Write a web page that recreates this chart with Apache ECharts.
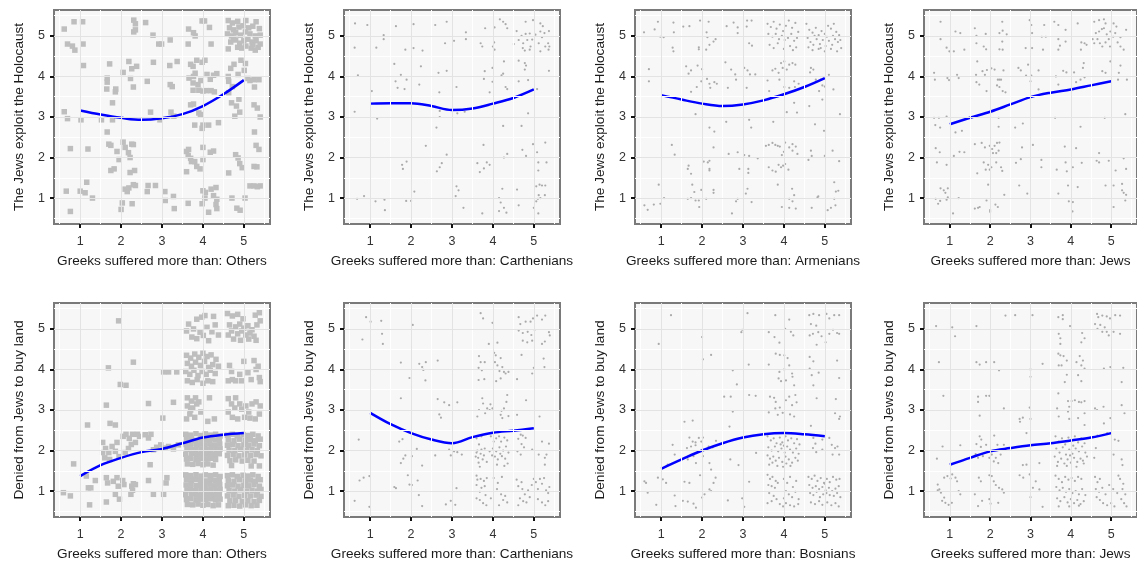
<!DOCTYPE html>
<html>
<head>
<meta charset="utf-8">
<script src="https://cdn.jsdelivr.net/npm/echarts@6/dist/echarts.min.js"></script>
<style>
  html, body { margin: 0; padding: 0; background: #fff; }
  #chart { width: 1137px; height: 563px; }
</style>
</head>
<body>
<div id="chart"></div>
<script>
// 坐标刻度
const ticks = [1, 2, 3, 4, 5]
const minorTicks = [0.5, 1.5, 2.5, 3.5, 4.5, 5.5]
const fitX = [1, 1.5, 2, 2.5, 3, 3.5, 4, 4.5, 5]

const xTitles = [
  'Greeks suffered more than: Others',
  'Greeks suffered more than: Carthenians',
  'Greeks suffered more than: Armenians',
  'Greeks suffered more than: Jews',
  'Greeks suffered more than: Others',
  'Greeks suffered more than: Carthenians',
  'Greeks suffered more than: Bosnians',
  'Greeks suffered more than: Jews'
]
const yTitles = [
  'The Jews exploit the Holocaust', 'The Jews exploit the Holocaust',
  'The Jews exploit the Holocaust', 'The Jews exploit the Holocaust',
  'Denied from Jews to buy land', 'Denied from Jews to buy land',
  'Denied from Jews to buy land', 'Denied from Jews to buy land'
]

// 拟合曲线 (x = fitX)
const fit1 = [3.16, 3.06, 2.98, 2.93, 2.97, 3.07, 3.27, 3.56, 3.91]
const fit2 = [3.33, 3.34, 3.34, 3.27, 3.17, 3.21, 3.33, 3.47, 3.68]
const fit3 = [3.54, 3.43, 3.33, 3.27, 3.31, 3.41, 3.56, 3.74, 3.96]
const fit4 = [2.82, 2.98, 3.13, 3.31, 3.49, 3.6, 3.68, 3.78, 3.88]
const fit5 = [1.37, 1.64, 1.82, 1.96, 2.04, 2.18, 2.32, 2.39, 2.43]
const fit6 = [2.93, 2.65, 2.43, 2.27, 2.18, 2.33, 2.44, 2.49, 2.55]
const fit7 = [1.55, 1.78, 2.0, 2.18, 2.32, 2.4, 2.43, 2.4, 2.35]
const fit8 = [1.65, 1.82, 1.98, 2.06, 2.13, 2.18, 2.25, 2.32, 2.43]

// 散点 (抖动后)
const pts1 = [
  [0.61,5.17],[0.85,5.35],[1.06,5.35],[0.69,4.8],[0.81,4.75],[0.87,4.65],[1.07,4.8],[1.08,4.27],
  [2.31,5.39],[2.35,5.3],[2.31,5.1],[2.35,5.15],[2.6,5.33],[2.78,5.02],[2.92,4.8],[2.99,4.8],[3.2,4.9],
  [1.72,4.31],[1.66,3.96],[1.66,3.86],[1.65,3.69],[1.87,3.69],[1.86,3.62],[2.05,4.1],[2.19,4.37],[2.26,4.19],
  [2.23,3.95],[2.3,3.74],[2.38,4.25],[2.64,3.88],[2.79,4.35],[3.2,3.8],[3.25,3.75],[3.19,4.27],[3.37,4.37],[1.79,3.35],
  [2.72,3.12],[2.95,2.93],[3.22,3.12],[3.29,3.02],[1.79,2.93],[1.66,2.63],[1.52,2.93],
  [3.65,5.17],[3.77,5.08],[3.81,5.0],[3.98,5.37],[4.04,5.37],[4.16,5.21],[4.2,4.8],[3.64,4.8],
  [3.7,4.3],[3.76,4.25],[3.81,4.08],[3.77,4.0],[3.66,3.96],[3.76,3.84],[3.88,3.8],[3.76,3.66],[3.9,3.66],
  [3.98,4.35],[4.05,4.4],[3.85,4.4],[4.1,4.05],[4.18,3.93],[4.26,4.03],[4.34,4.07],[4.0,3.64],[4.08,3.65],
  [4.2,3.65],[4.28,3.62],[3.95,3.9],
  [3.7,3.3],[3.77,3.32],[3.9,3.1],[3.94,3.06],[3.8,2.8],[3.98,2.72],[4.0,2.8],[4.14,2.8],[4.38,2.86],
  [4.62,5.38],[4.72,5.32],[4.85,5.36],[5.05,5.38],[5.3,5.35],[4.65,5.2],[4.75,5.15],[4.88,5.22],[4.98,5.25],
  [5.12,5.2],[5.22,5.24],[5.38,5.18],[4.6,5.05],[4.7,5.0],[4.8,5.08],[4.92,5.02],[5.04,5.1],[5.15,5.05],
  [5.28,5.0],[5.4,5.02],[4.68,4.85],[4.8,4.9],[4.9,4.82],[5.0,4.88],[5.1,4.92],[5.2,4.85],[5.3,4.88],
  [5.4,4.8],[4.62,4.68],[4.85,4.72],[4.95,4.7],[5.05,4.75],[5.18,4.7],[5.28,4.65],[5.35,4.72],[5.22,4.78],[4.75,4.95],
  [4.62,4.0],[4.68,4.2],[4.76,4.3],[4.86,4.05],[4.93,4.4],[5.01,4.15],[5.04,4.32],[4.63,3.88],[4.72,3.75],
  [4.63,3.6],[4.7,3.35],[4.82,3.27],[4.88,3.44],[5.25,3.92],[5.37,3.92],[5.26,3.74],[5.25,3.3],[5.33,3.22],
  [5.4,3.0],[4.78,3.02],[4.9,3.12],[5.1,3.95],[5.15,3.9],
  [4.8,2.07],[4.86,1.99],[4.9,1.85],[4.96,1.75],[4.63,1.62],[5.25,1.78],[5.32,1.77],[5.3,2.3],[5.37,2.2],
  [5.26,2.63],[5.15,1.3],[5.25,1.3],[5.33,1.28],[5.4,1.3],[4.71,1.0],[4.83,0.75],[4.91,0.7],[5.03,1.0],
  [3.6,2.15],[3.64,2.05],[3.7,1.98],[3.72,1.9],[3.8,1.9],[3.6,1.65],[3.85,1.78],[3.93,1.72],[4.0,2.25],
  [4.18,2.13],[4.26,2.16],[3.65,2.2],[4.0,1.95],
  [4.0,1.18],[4.06,1.14],[4.2,1.22],[4.32,1.26],[4.34,0.97],[4.32,0.84],[4.26,1.06],[3.64,0.87],[3.98,0.86],
  [4.14,0.65],[4.34,0.74],[4.05,1.0],
  [1.75,2.3],[1.7,2.33],[2.05,2.38],[2.1,2.25],[2.18,2.12],[2.22,2.0],[1.9,2.15],[2.26,2.33],[2.3,2.32],
  [1.83,1.72],[1.75,1.68],[2.22,1.63],[2.33,1.68],[1.95,1.95],
  [2.1,1.22],[2.15,1.16],[2.19,1.25],[2.3,1.33],[2.35,1.31],[2.03,0.88],[2.0,0.72],[2.27,0.86],
  [2.64,1.16],[2.84,1.31],[2.66,1.31],[3.07,1.16],[3.08,0.94],[3.28,1.04],[3.3,0.74],
  [0.76,2.22],[1.19,2.21],[0.66,1.17],[1.0,1.17],[1.12,1.13],[1.16,1.39],[1.3,1.0],[0.76,0.67],
  [0.61,3.13],[0.69,2.96],[1.02,2.93]
]

const pts2 = [
  [0.63,5.31],[0.93,5.27],[0.62,4.71],[0.7,4.03],[1.33,5.02],[1.33,4.92],[1.15,4.71],[1.04,3.64],[0.62,3.13],
  [1.17,2.96],[0.68,0.98],[0.85,1.05],[1.13,0.92],[1.35,0.96],[1.36,0.7],
  [1.63,5.24],[2.06,5.29],[1.86,4.66],[2.06,4.7],[2.28,4.64],[1.59,4.31],[1.75,4.04],[1.89,3.92],[1.62,3.88],
  [1.67,3.72],[1.84,3.69],[2.2,3.8],[2.24,4.25],[2.36,2.29],[1.78,1.82],[1.8,1.72],[1.89,1.9],[2.08,1.16],
  [1.88,0.93],[2.0,0.93],
  [2.59,5.27],[2.87,5.35],[2.83,4.82],[3.05,4.88],[3.34,5.09],[3.34,4.92],[2.67,4.09],[2.87,4.14],[3.11,3.74],
  [2.69,3.61],[2.7,3.15],[2.7,3.0],[2.62,2.74],[3.13,3.09],[3.31,3.13],[2.87,2.07],[2.75,1.86],[2.7,1.76],
  [2.63,1.66],[3.11,1.29],[3.16,1.19],[3.09,1.05],[3.28,0.76],
  [3.81,5.19],[4.04,5.21],[4.17,5.41],[4.25,5.35],[4.31,5.29],[4.35,5.19],[3.7,4.82],[3.74,4.74],[4.03,4.84],
  [4.04,4.66],[4.0,4.74],[3.8,4.13],[3.78,3.94],[3.99,4.21],[4.27,4.37],[4.21,4.03],[4.25,4.07],[3.99,3.87],
  [3.92,3.61],[4.31,3.74],[4.35,3.69],[4.25,2.78],[3.77,2.31],[3.62,1.86],[3.68,1.64],[3.78,1.73],[3.85,1.88],
  [3.92,1.82],[4.35,2.09],[4.27,2.0],[3.74,0.62],[4.23,1.23],[4.15,1.0],[4.19,0.89],[4.27,0.76],[4.33,0.64],[4.15,0.68],
  [4.58,5.12],[4.8,5.35],[4.98,5.39],[5.16,5.31],[5.22,5.24],[5.37,5.12],[4.63,4.9],[4.7,5.0],[4.74,4.82],
  [4.8,5.05],[4.84,4.9],[4.9,5.06],[4.96,4.91],[5.04,5.03],[5.16,5.11],[5.2,4.97],[5.26,5.07],[4.51,4.8],
  [4.73,4.7],[4.78,4.64],[4.92,4.74],[4.9,4.66],[5.12,4.82],[5.16,4.62],[5.28,4.74],[5.35,4.82],[5.36,4.66],
  [5.38,4.74],[4.63,4.39],[4.78,4.33],[4.78,4.17],[4.81,4.27],[4.63,3.88],[4.86,3.91],[5.08,3.69],[5.37,4.14],
  [4.7,2.78],[4.86,3.09],[4.72,2.19],[4.81,2.04],[4.98,2.33],[5.08,2.13],[5.11,1.88],[5.28,2.37],[5.31,1.88],
  [5.11,1.68],[4.59,1.21],[4.63,0.82],[5.0,0.76],[5.06,0.92],[5.1,0.98],[5.06,1.29],[5.14,1.33],[5.2,1.31],
  [5.28,1.31],[5.12,1.07],[5.16,1.0],[5.27,1.07],[5.11,0.62]
]

const pts3 = [
  [0.58,5.09],[0.92,5.35],[0.84,5.16],[0.98,4.98],[1.06,4.97],[1.3,5.33],[1.31,5.09],[1.28,4.71],[1.3,4.62],
  [0.7,4.18],[0.7,3.88],[1.26,2.31],[1.33,2.07],[0.94,1.33],[1.07,1.0],[0.59,0.82],[0.67,0.71],[0.82,0.84],[0.98,0.86],
  [1.54,5.23],[1.69,5.24],[1.95,5.38],[2.16,5.35],[1.92,4.72],[1.92,4.67],[2.11,5.09],[2.13,4.97],[2.1,4.66],
  [2.18,4.78],[2.28,4.86],[2.33,4.92],[1.61,4.25],[1.67,4.07],[1.73,4.15],[1.89,4.27],[2.0,4.18],[1.98,3.88],
  [1.87,3.74],[1.73,3.62],[2.12,3.94],[2.18,3.82],[2.2,3.72],[2.36,3.82],[2.3,3.86],[1.84,3.07],[2.18,2.74],
  [2.3,2.64],[2.28,2.25],[2.04,1.9],[2.18,1.92],[2.14,1.88],[2.18,1.72],[2.18,1.68],[1.67,1.8],[1.65,1.72],
  [1.73,1.6],[1.76,1.33],[1.81,1.15],[1.65,0.98],[1.73,1.0],[1.84,0.94],[1.92,0.94],[1.93,0.78],[1.98,1.2],
  [2.1,0.98],[2.28,1.2],[2.28,1.13],
  [2.6,5.24],[2.77,5.33],[2.87,5.21],[2.87,5.07],[3.1,5.38],[3.21,5.38],[3.09,5.23],[3.15,4.82],[3.22,4.76],
  [2.57,4.35],[2.71,4.17],[2.81,4.05],[2.83,3.92],[2.63,3.72],[3.03,4.21],[3.11,4.15],[3.17,4.05],[3.3,4.05],
  [3.09,3.72],[3.15,2.93],[3.2,2.74],[2.59,2.88],[2.65,2.09],[2.87,2.13],[2.91,1.72],[3.03,2.06],[3.15,2.04],
  [3.13,1.72],[3.13,1.62],[3.36,1.98],[2.87,0.98],[2.83,0.92],[3.07,1.11],[3.11,1.23],[3.21,0.9],[2.73,0.62],
  [3.6,5.3],[3.68,5.22],[3.75,5.35],[3.82,5.18],[3.9,5.28],[3.98,5.12],[4.05,5.25],[4.12,5.38],[4.2,5.2],
  [4.28,5.32],[4.35,5.1],[3.62,5.05],[3.72,4.98],[3.8,5.05],[3.88,4.92],[3.95,5.0],[4.02,4.9],[4.1,4.95],
  [4.18,5.05],[4.25,4.88],[4.32,4.95],[3.65,4.78],[3.75,4.7],[3.85,4.82],[4.0,4.68],[4.15,4.75],[4.22,4.65],[4.3,4.72],
  [3.6,3.9],[3.64,3.64],[3.72,4.15],[3.79,4.19],[3.87,4.09],[3.93,4.33],[3.97,4.21],[4.01,4.37],[4.07,4.17],
  [4.13,4.29],[4.21,4.33],[4.28,4.29],[3.89,3.92],[4.01,3.74],[4.13,3.72],[4.27,3.74],[4.36,3.82],[4.25,3.88],
  [4.07,3.12],[4.32,3.11],[4.25,3.35],[3.74,2.88],
  [3.56,2.29],[3.63,2.31],[3.72,2.36],[3.79,2.31],[3.85,2.29],[3.9,2.27],[4.03,2.37],[4.13,2.25],[4.21,2.33],
  [4.29,2.27],[4.21,2.17],[4.33,2.09],[4.0,2.14],[3.95,2.06],[3.63,1.76],[3.72,1.68],[3.8,1.65],[3.87,1.82],
  [3.93,1.76],[3.98,1.8],[4.03,1.84],[4.11,1.7],[3.85,1.33],[4.13,0.98],[4.2,1.23],[4.25,1.07],[4.21,0.92],
  [4.29,0.74],[3.95,0.78],[4.13,0.76],
  [4.55,5.3],[4.62,5.15],[4.7,5.08],[4.78,5.2],[4.85,5.02],[4.92,5.12],[5.0,5.05],[5.08,5.25],[5.15,5.18],
  [5.22,5.3],[5.28,5.1],[5.35,5.02],[4.58,4.95],[4.65,4.85],[4.72,4.78],[4.8,4.92],[4.88,4.8],[4.95,4.9],
  [5.02,4.75],[5.1,4.88],[5.18,4.78],[5.25,4.92],[5.32,4.85],[5.4,4.7],[4.6,4.72],[4.7,4.65],[4.85,4.68],
  [5.0,4.62],[5.15,4.68],[5.3,4.62],[4.75,5.0],[5.05,4.98],[4.9,4.7],[5.38,4.9],[5.2,5.0],
  [4.78,3.92],[4.9,3.92],[4.94,3.78],[5.0,3.75],[4.86,3.64],[4.94,3.43],[4.66,4.21],[4.72,4.17],[4.64,4.1],
  [5.1,4.04],[4.62,3.27],[5.21,3.68],[5.37,3.07],[4.76,2.82],[4.98,2.66],
  [4.66,2.17],[4.68,2.04],[4.6,1.94],[5.0,2.04],[5.19,2.17],[5.35,1.91],
  [4.68,0.76],[4.82,1.02],[4.84,1.04],[5.07,0.7],[5.15,0.76],[5.23,1.39],[5.27,1.16],[5.23,0.98],[5.26,0.82],[5.33,1.18]
]

const pts4 = [
  [0.77,5.35],[0.77,4.92],[0.92,4.71],[1.14,5.11],[1.26,5.07],[0.99,4.62],[1.1,4.62],[1.36,4.66],
  [0.61,4.09],[0.63,3.92],[0.94,3.96],[0.98,3.91],[1.18,4.04],[1.22,3.96],[0.61,2.98],[0.73,2.98],[0.92,3.01],
  [0.64,2.8],[0.76,2.74],[1.14,2.62],[1.3,2.66],[0.65,2.23],[0.75,2.13],[0.68,1.88],[0.92,1.82],[1.24,2.14],
  [1.36,2.13],[1.1,2.04],[0.77,1.24],[0.85,1.19],[0.95,1.24],[0.89,1.13],[0.95,1.02],[0.92,0.96],[0.65,0.98],
  [0.76,0.93],[0.71,0.86],[1.08,0.62],[1.22,1.0],
  [1.62,5.19],[1.66,5.0],[1.66,4.82],[1.89,5.05],[1.84,4.74],[1.9,4.67],[2.23,5.07],[2.31,5.13],[2.3,4.86],
  [2.31,4.66],[2.23,4.67],[2.3,5.35],[1.68,4.37],[1.65,4.04],[1.66,3.86],[1.73,3.8],[1.81,4.13],[1.87,4.04],
  [1.92,4.16],[2.03,4.2],[1.91,3.64],[2.11,4.17],[2.19,3.92],[2.23,3.92],[2.27,3.92],[2.17,3.78],[2.23,3.74],
  [2.31,3.64],[2.38,3.61],[2.33,4.15],[2.21,2.98],[2.21,2.76],[1.62,2.33],[1.79,2.36],[1.68,1.61],[1.87,2.25],
  [1.99,2.29],[2.05,2.21],[2.11,2.29],[2.17,2.36],[2.23,2.37],[2.07,2.11],[2.15,2.11],[2.21,2.17],[1.84,1.88],
  [1.95,1.82],[1.99,1.7],[1.89,1.7],[2.15,1.88],[2.27,1.76],[2.3,1.67],[2.03,1.76],[1.95,1.33],[2.35,1.08],
  [1.62,0.74],[1.7,0.76],[1.74,0.78],[2.0,0.7],[2.0,0.66],[1.91,0.94],[2.13,0.84],[2.19,0.78],
  [2.41,5.04],[2.98,5.39],[3.02,5.27],[3.04,5.07],[3.34,5.27],[3.28,4.98],[3.38,4.98],[2.88,4.7],[3.04,4.7],
  [3.31,4.66],[2.7,4.21],[2.76,4.15],[2.94,4.29],[2.89,4.02],[3.02,4.02],[3.0,3.88],[3.2,4.15],[3.2,3.68],
  [2.62,2.74],[2.81,2.84],[2.79,2.25],[2.64,1.87],[2.76,1.96],[3.06,2.31],[3.27,1.94],[3.27,1.76],[2.72,1.31],[2.92,1.11],
  [3.59,5.35],[3.69,5.27],[3.87,5.15],[4.17,5.31],[3.69,4.92],[3.73,4.76],[3.69,4.66],[3.87,4.86],[4.26,4.84],
  [4.34,4.82],[4.39,4.78],[4.25,4.66],[3.81,4.14],[3.89,4.1],[4.08,4.1],[4.13,3.86],[4.24,3.92],[4.34,3.98],
  [4.3,4.21],[4.32,4.33],[3.63,4.0],[3.69,3.8],[3.61,2.98],[4.24,2.76],[3.85,2.27],[4.13,2.23],[3.87,1.88],
  [3.9,1.66],[3.65,1.7],[4.05,1.76],[4.27,1.87],[3.69,1.11],[3.93,1.31],[4.17,1.27],[3.95,0.92],[4.05,0.9],[4.04,0.67],
  [4.58,5.35],[4.7,5.39],[4.82,5.41],[4.86,5.31],[5.06,5.31],[5.13,5.23],[4.62,5.07],[4.7,5.11],[4.77,5.17],
  [4.82,5.19],[4.89,5.04],[4.98,5.11],[5.05,4.98],[5.1,5.07],[4.54,4.92],[4.58,4.82],[4.66,4.92],[4.72,4.82],
  [4.78,4.74],[4.86,4.84],[4.94,4.92],[4.97,4.74],[5.16,4.84],[5.23,4.74],[5.31,4.66],[5.23,4.97],[5.37,5.15],
  [4.98,4.37],[4.78,4.13],[4.86,4.09],[5.19,4.09],[5.39,3.92],[5.17,3.92],[5.23,4.27],[4.84,2.98],[5.35,3.07],
  [4.7,2.11],[4.64,1.92],[4.7,1.88],[4.94,1.92],[5.31,1.98],[5.37,1.72],[5.11,1.68],[4.86,1.31],[5.06,1.31],
  [5.27,1.35],[5.27,1.19],[5.31,1.13],[5.37,1.08],[5.35,0.94],[5.06,0.78]
]

const pts5 = [
  [0.59,0.96],[0.76,0.88],[0.84,1.67],[1.18,2.63],[1.15,1.37],[1.2,1.08],[1.26,1.08],[1.37,1.26],[1.23,0.66],
  [1.64,3.12],[1.69,4.04],[1.94,5.2],[2.3,4.18],[1.98,3.63],[2.12,3.61],[1.73,2.67],[1.86,2.63],
  [1.55,2.2],[1.62,2.05],[1.7,1.95],[1.78,2.1],[1.86,1.98],[1.9,2.2],[1.95,1.85],[2.05,2.35],[2.12,2.4],
  [2.2,2.3],[2.28,2.4],[2.35,2.2],[2.1,1.95],[2.18,2.05],[2.25,2.15],[1.6,1.82],[1.72,1.78],[1.55,1.95],
  [2.4,2.4],[2.45,2.35],
  [1.64,1.33],[1.67,1.2],[1.81,1.24],[1.9,1.33],[1.93,1.12],[2.04,1.26],[2.07,1.16],[1.86,0.92],[1.96,0.8],
  [1.64,0.73],[2.26,1.12],[2.3,1.18],[2.24,0.92],[2.28,1.02],[2.35,1.16],
  [2.67,3.16],[3.04,3.94],[3.16,3.94],[3.36,3.94],[3.28,3.19],[3.02,2.8],[2.59,2.39],[2.67,2.31],[2.73,2.4],
  [2.71,1.65],[2.79,2.02],[2.87,2.08],[2.97,2.14],[3.08,2.06],[3.16,2.1],[3.28,2.04],[3.4,2.14],[2.67,1.26],
  [2.79,0.92],[3.04,0.92],[3.12,1.33],[3.1,1.2],
  [3.65,5.12],[3.85,5.24],[3.97,5.29],[4.05,5.33],[4.26,5.31],[3.77,5.0],[3.93,4.92],[4.1,5.04],[4.22,4.93],
  [3.73,4.8],[3.85,4.76],[4.01,4.84],[4.38,4.85],[4.14,4.71],[3.6,4.95],[4.3,5.1],
  [3.6,4.35],[3.7,4.28],[3.8,4.38],[3.9,4.3],[4.0,4.4],[4.1,4.32],[4.2,4.36],[4.32,4.25],[3.62,4.15],
  [3.72,4.08],[3.82,4.18],[3.94,4.1],[4.04,4.2],[4.14,4.05],[4.24,4.12],[4.38,4.08],[3.58,3.95],[3.68,3.88],
  [3.78,3.98],[3.88,3.85],[3.98,3.95],[4.08,3.88],[4.18,3.98],[4.3,3.9],[3.62,3.72],[3.74,3.68],[3.86,3.75],
  [4.0,3.66],[4.12,3.72],[4.24,3.7],
  [3.62,3.3],[3.72,3.22],[3.82,3.3],[3.62,3.1],[3.75,3.05],[3.85,3.15],[3.68,2.9],[3.8,2.82],[3.6,2.78],
  [3.95,2.95],[4.16,3.3],[4.12,2.72],[4.28,2.78],[3.9,3.2],[3.7,3.0],
  [3.58,2.4],[3.7,2.38],[3.83,2.42],[3.95,2.37],[4.06,2.41],[4.18,2.38],[4.31,2.4],[4.42,2.36],
  [3.6,2.27],[3.72,2.29],[3.82,2.25],[3.94,2.28],[4.07,2.26],[4.19,2.3],[4.3,2.26],[4.4,2.28],
  [3.59,2.15],[3.71,2.17],[3.84,2.14],[3.96,2.16],[4.05,2.14],[4.17,2.17],[4.29,2.13],[4.41,2.16],
  [3.61,2.03],[3.7,2.05],[3.82,2.02],[3.95,2.04],[4.08,2.03],[4.2,2.05],[4.32,2.02],[4.42,2.04],
  [3.58,1.91],[3.72,1.93],[3.84,1.9],[3.96,1.92],[4.06,1.91],[4.18,1.93],[4.3,1.9],[4.4,1.92],
  [3.6,1.79],[3.7,1.81],[3.83,1.78],[3.94,1.8],[4.07,1.79],[4.19,1.81],[4.31,1.78],
  [3.62,1.67],[3.75,1.66],[3.88,1.68],[4.0,1.65],[4.12,1.67],[4.25,1.64],
  [3.58,1.4],[3.7,1.38],[3.83,1.41],[3.95,1.37],[4.06,1.4],[4.18,1.38],[4.31,1.4],[4.42,1.36],
  [3.6,1.28],[3.72,1.26],[3.82,1.29],[3.94,1.27],[4.07,1.25],[4.19,1.29],[4.3,1.26],[4.4,1.28],
  [3.59,1.15],[3.71,1.17],[3.84,1.14],[3.96,1.16],[4.05,1.14],[4.17,1.17],[4.29,1.13],[4.41,1.16],
  [3.61,1.03],[3.7,1.05],[3.82,1.02],[3.95,1.04],[4.08,1.03],[4.2,1.05],[4.32,1.02],[4.42,1.04],
  [3.58,0.91],[3.72,0.93],[3.84,0.9],[3.96,0.92],[4.06,0.91],[4.18,0.93],[4.3,0.9],[4.4,0.92],
  [3.6,0.79],[3.7,0.81],[3.83,0.78],[3.94,0.8],[4.07,0.79],[4.19,0.81],[4.31,0.78],[4.42,0.8],
  [3.62,0.67],[3.75,0.66],[3.88,0.68],[4.0,0.65],[4.12,0.67],[4.25,0.64],[4.38,0.66],
  [4.6,5.38],[4.72,5.32],[4.85,5.36],[5.28,5.34],[5.38,5.4],[4.65,5.1],[4.8,5.05],[4.9,5.12],[5.0,5.02],
  [5.1,5.08],[5.2,4.98],[5.32,5.1],[4.7,4.95],[4.85,4.88],[4.95,4.95],[5.05,4.85],[5.15,4.9],[5.25,4.82],
  [4.75,4.75],[4.92,4.72],[5.3,4.72],[5.4,5.2],[4.62,4.85],[5.12,4.75],[4.98,5.25],
  [4.62,3.72],[4.72,3.75],[4.8,3.72],[4.7,3.95],[5.0,4.2],[5.1,3.92],[5.25,4.22],[5.3,4.0],[5.38,3.8],
  [5.4,3.7],[4.9,3.88],[5.18,3.75],[4.65,4.1],[5.35,4.08],[4.95,3.72],
  [4.62,3.28],[4.7,3.15],[4.8,3.3],[4.62,2.95],[4.72,2.82],[4.85,2.78],[4.95,3.02],[5.05,3.1],[5.12,2.95],
  [5.2,3.15],[5.3,3.2],[5.38,2.9],[5.28,2.78],[5.15,2.8],[4.9,3.15],[5.02,2.82],[5.4,3.1],[4.78,3.05],
  [4.6,2.38],[4.72,2.4],[4.84,2.36],[4.98,2.39],[5.1,2.37],[5.22,2.4],[5.35,2.36],
  [4.62,2.26],[4.76,2.24],[4.9,2.28],[5.04,2.25],[5.16,2.27],[5.28,2.24],[5.4,2.28],
  [4.6,2.13],[4.73,2.15],[4.86,2.12],[5.0,2.14],[5.12,2.13],[5.25,2.16],[5.38,2.12],
  [4.64,2.01],[4.78,2.0],[4.92,2.03],[5.06,2.0],[5.2,2.02],[5.33,2.0],
  [4.6,1.88],[4.74,1.9],[4.88,1.87],[5.02,1.89],[5.16,1.88],[5.3,1.9],[5.42,1.87],
  [4.66,1.75],[4.8,1.77],[4.96,1.74],[5.1,1.76],[5.25,1.74],[5.38,1.62],[4.7,1.63],[5.18,1.62],
  [4.6,1.38],[4.72,1.4],[4.84,1.36],[4.98,1.39],[5.1,1.37],[5.22,1.4],[5.35,1.36],
  [4.62,1.26],[4.76,1.24],[4.9,1.28],[5.04,1.25],[5.16,1.27],[5.28,1.24],[5.4,1.28],
  [4.6,1.13],[4.73,1.15],[4.86,1.12],[5.0,1.14],[5.12,1.13],[5.25,1.16],[5.38,1.12],
  [4.64,1.01],[4.78,1.0],[4.92,1.03],[5.06,1.0],[5.2,1.02],[5.33,1.0],[5.42,1.04],
  [4.6,0.88],[4.74,0.9],[4.88,0.87],[5.02,0.89],[5.16,0.88],[5.3,0.9],[5.42,0.87],
  [4.66,0.76],[4.8,0.77],[4.96,0.74],[5.1,0.76],[5.25,0.74],[5.38,0.77],
  [4.62,0.64],[4.76,0.65],[4.9,0.63],[5.04,0.66],[5.18,0.64],[5.32,0.65]
]

const pts6 = [
  [0.9,5.29],[1.01,5.18],[1.27,5.2],[1.29,4.88],[1.31,4.63],[0.81,4.74],[0.72,2.27],[0.74,1.26],[0.84,1.33],
  [0.98,1.37],[0.62,0.76],[0.98,0.61],
  [2.04,5.1],[1.75,4.17],[1.96,3.79],[2.2,4.14],[2.27,4.06],[2.3,3.99],[2.36,4.18],[2.35,3.73],[1.75,3.29],
  [1.71,2.22],[1.79,2.28],[2.14,2.04],[1.86,1.88],[1.75,1.69],[1.81,1.8],[2.02,1.86],[2.27,1.63],[1.59,1.1],
  [1.63,1.07],[1.92,1.39],[1.96,1.16],[2.02,1.15],[2.16,1.26],[2.19,0.9],[2.27,0.63],
  [2.65,4.22],[2.65,3.27],[2.81,3.19],[2.93,3.12],[3.13,3.19],[2.69,2.89],[2.73,2.81],[2.59,1.88],[2.93,2.02],
  [2.97,1.88],[3.05,1.98],[3.13,1.96],[3.24,1.9],[3.11,1.07],[2.85,0.67],[2.97,0.76],[3.08,0.66],
  [3.7,5.39],[3.76,5.26],[3.99,5.15],[3.9,4.63],[4.11,4.66],[3.66,4.33],[3.7,4.18],[3.65,4.04],[3.73,3.98],
  [3.8,4.18],[4.03,4.41],[4.07,4.35],[4.05,4.18],[4.11,4.1],[4.16,3.96],[4.27,3.94],[4.19,4.28],[4.23,4.06],
  [4.31,3.9],[4.38,3.94],[4.08,3.71],[4.19,3.78],[3.65,3.74],[3.79,3.76],
  [3.62,2.84],[3.66,3.0],[3.74,3.29],[3.81,2.92],[3.86,3.04],[3.92,3.0],[3.99,3.04],[3.94,3.14],[3.76,3.16],
  [4.21,2.98],[4.27,3.04],[4.23,2.8],[4.33,3.2],[4.35,3.37],[4.19,2.88],[4.38,2.85],
  [3.6,2.3],[3.66,2.15],[3.72,2.35],[3.62,2.0],[3.7,1.92],[3.58,1.85],[3.75,1.78],[3.65,1.7],[3.8,2.05],
  [3.68,1.6],[3.6,1.95],[3.72,2.02],[3.64,1.82],[3.78,1.88],[3.85,1.72],[3.95,2.35],[4.02,2.22],[4.08,2.3],
  [4.15,2.35],[4.2,2.22],[4.28,2.32],[4.35,2.25],[4.0,2.05],[4.08,1.98],[4.16,2.08],[4.25,2.0],[4.32,2.1],
  [4.38,1.95],[4.05,1.85],[4.12,1.78],[4.22,1.86],[4.3,1.8],[4.36,1.68],[3.98,1.88],[4.1,1.65],[4.28,1.62],
  [4.18,1.92],[3.92,1.98],
  [3.6,1.38],[3.62,1.28],[3.7,1.3],[3.78,1.25],[3.85,1.32],[3.6,1.15],[3.72,1.08],[3.68,0.98],[3.82,0.9],
  [3.8,1.12],[3.6,0.82],[3.68,0.78],[3.76,0.7],[3.84,0.65],[4.02,1.32],[4.12,1.2],[4.22,1.35],[4.1,1.05],
  [4.2,0.92],[4.3,0.88],[4.25,0.78],[4.15,0.65],[4.35,0.72],[3.95,0.82],
  [4.63,5.29],[4.67,5.12],[4.8,5.18],[4.92,5.18],[4.98,5.26],[5.08,5.33],[5.2,5.23],[5.28,5.33],[4.63,4.96],
  [4.73,4.9],[4.85,4.93],[4.94,4.85],[5.02,4.98],[4.73,4.71],[4.84,4.67],[4.96,4.71],[5.2,4.63],[5.27,4.69],
  [5.37,4.92],[5.39,4.84],[4.7,4.36],[5.24,4.27],[5.26,4.06],[5.0,4.04],[4.96,3.9],[4.59,3.76],[4.81,3.24],
  [4.59,2.88],[5.14,2.84],
  [4.68,2.39],[4.73,2.37],[4.8,2.31],[4.62,2.29],[4.7,2.16],[4.76,2.08],[4.6,1.98],[4.68,1.9],[4.96,2.02],
  [5.2,2.22],[5.37,2.17],[5.31,1.9],[5.27,1.82],[5.12,1.9],[5.27,1.65],
  [4.58,1.28],[4.62,1.12],[4.7,1.22],[4.72,1.05],[4.78,0.92],[4.66,0.82],[4.74,0.75],[4.82,0.72],[4.9,0.85],
  [4.86,1.02],[4.95,1.15],[5.0,1.3],[5.05,1.22],[5.1,1.05],[5.15,1.3],[5.2,1.18],[5.25,1.32],[5.3,1.02],
  [5.35,0.95],[5.38,1.1],[5.1,0.8],[5.2,0.72],[5.28,0.65],[5.35,0.75],[4.62,0.65]
]

const pts7 = [
  [0.94,4.63],[1.24,5.34],[0.59,1.24],[0.63,1.2],[0.67,0.96],[0.92,1.33],[1.04,1.29],[1.12,1.2],[1.16,1.65],
  [1.28,2.14],[1.33,1.9],[0.88,0.66],[1.33,0.89],[1.35,0.63],
  [2.0,4.8],[2.02,4.25],[2.22,4.36],[1.57,2.71],[1.77,2.74],[1.69,2.32],[1.77,2.22],[1.84,2.2],[1.92,2.31],
  [1.98,2.22],[2.02,2.32],[1.63,2.06],[1.73,2.1],[1.84,2.13],[1.92,1.98],[2.11,2.02],[2.16,2.1],[2.26,2.08],
  [2.34,2.24],[1.65,1.78],[1.79,1.86],[1.85,1.69],[2.02,1.86],[2.18,1.69],[2.22,1.53],[1.57,1.23],[1.69,1.2],
  [1.95,1.39],[2.18,1.04],[2.22,1.0],[2.06,0.92],[2.0,0.84],[1.53,0.76],[1.65,0.74],[1.79,0.69],[1.85,0.59],
  [2.33,1.33],[2.28,1.2],
  [3.11,5.39],[2.98,4.98],[2.96,4.92],[3.14,4.12],[2.75,3.98],[2.85,3.63],[2.54,3.33],[2.7,3.33],[3.15,3.37],
  [3.31,3.35],[2.75,2.96],[2.67,2.59],[2.69,1.78],[2.89,1.64],[3.32,1.94],[3.15,1.23],[2.63,0.77],[2.98,0.82],[3.03,0.61],
  [3.79,5.34],[4.13,5.23],[4.17,4.93],[4.03,5.0],[3.63,4.92],[3.77,4.8],[4.23,4.84],[3.89,4.66],
  [3.63,4.12],[3.8,4.39],[3.9,4.36],[4.01,4.35],[4.09,4.28],[4.13,4.1],[3.89,3.94],[4.01,4.0],[3.87,3.78],
  [3.93,3.71],[4.05,3.73],[4.2,3.9],[4.21,3.82],[4.25,3.61],
  [3.66,3.33],[3.76,3.3],[3.8,3.2],[3.9,3.06],[4.05,3.24],[4.13,3.33],[4.28,3.37],[4.2,3.12],[4.31,3.19],
  [4.15,2.89],[4.25,2.84],[3.97,2.93],[3.63,2.94],[3.79,3.04],[3.85,2.88],
  [3.6,2.35],[3.68,2.25],[3.75,2.3],[3.82,2.18],[3.9,2.32],[3.96,2.2],[4.04,2.35],[4.1,2.25],[4.18,2.3],
  [4.25,2.18],[4.32,2.28],[4.38,2.15],[3.62,2.08],[3.7,2.0],[3.78,2.1],[3.86,1.98],[3.94,2.05],[4.02,1.95],
  [4.08,2.1],[4.15,2.02],[4.22,1.95],[4.3,2.05],[4.36,1.92],[3.6,1.88],[3.66,1.8],[3.74,1.85],[3.8,1.75],
  [3.88,1.82],[3.96,1.72],[4.04,1.85],[4.12,1.78],[4.2,1.7],[4.28,1.82],[3.64,1.65],[3.72,1.7],[3.84,1.62],
  [3.98,1.6],[4.06,1.68],[4.16,1.62],[4.34,1.75],[3.92,2.15],[4.0,2.12],
  [3.6,1.4],[3.66,1.3],[3.72,1.35],[3.8,1.25],[3.62,1.15],[3.7,1.12],[3.78,1.08],[3.85,1.2],[3.64,0.95],
  [3.75,0.88],[3.6,0.7],[3.7,0.75],[3.82,0.8],[3.9,0.68],[3.98,0.62],[4.0,1.3],[4.08,1.2],[4.15,1.35],
  [4.22,1.1],[4.3,1.25],[4.05,1.0],[4.12,0.92],[4.2,0.85],[4.28,0.98],[4.36,0.8],[4.05,0.7],[4.15,0.65],
  [4.25,0.62],[4.35,0.68],[4.0,0.82],
  [4.62,5.34],[4.72,5.37],[4.86,5.34],[5.04,5.37],[5.11,5.26],[5.23,5.34],[5.35,5.34],[4.66,5.12],[4.79,5.08],
  [4.71,4.88],[4.84,4.92],[4.92,4.82],[4.63,4.84],[5.02,4.67],[5.11,4.88],[5.2,4.98],[5.3,4.9],[5.35,4.88],
  [4.8,4.61],[4.63,4.31],[4.72,4.2],[4.63,4.02],[4.68,3.86],[4.85,3.92],[4.72,3.61],[5.3,4.22],[5.35,3.79],
  [4.8,3.29],[5.27,3.27],[5.37,2.84],[5.35,2.78],[4.66,2.61],[5.25,2.92],
  [4.72,2.31],[4.77,2.17],[4.71,2.06],[4.79,1.96],[4.94,2.27],[5.11,2.31],[5.17,2.14],[5.25,2.06],[5.19,1.9],
  [5.31,2.1],[5.35,1.9],[4.94,2.02],
  [4.6,1.35],[4.68,1.3],[4.75,1.38],[4.82,1.25],[4.9,1.32],[4.98,1.2],[5.05,1.3],[5.12,1.22],[5.2,1.35],
  [5.28,1.28],[5.36,1.3],[4.62,1.15],[4.7,1.08],[4.78,1.12],[4.86,1.05],[4.94,1.1],[5.02,1.02],[5.1,1.08],
  [5.18,1.0],[5.26,1.06],[5.34,1.12],[4.64,0.95],[4.72,0.9],[4.8,0.98],[4.88,0.85],[4.96,0.92],[5.04,0.95],
  [5.12,0.9],[5.22,0.88],[5.3,0.95],[5.38,0.85],[4.66,0.72],[4.76,0.68],[4.86,0.75],[4.94,0.66],[5.06,0.72],
  [5.16,0.65],[5.26,0.7],[5.34,0.62],[5.0,1.18]
]

const pts8 = [
  [0.66,5.07],[1.06,5.04],[1.13,4.82],[0.73,4.18],[0.84,3.35],[0.82,2.1],[0.68,1.8],[1.26,2.13],[0.7,1.16],
  [0.74,1.04],[0.78,0.96],[0.86,1.33],[0.94,1.37],[1.02,1.31],[1.06,1.41],[1.14,1.33],[1.18,1.24],[0.81,0.76],
  [0.89,0.71],[0.97,0.66],[1.05,0.71],[0.86,0.84],[0.7,1.02],[1.22,1.0],[1.26,0.92],
  [1.66,5.07],[1.66,4.18],[1.74,4.12],[1.9,4.18],[2.1,4.18],[2.22,3.98],[1.7,3.33],[1.7,3.2],[1.9,3.35],
  [1.98,3.35],[2.34,3.04],[1.74,2.86],[1.74,2.35],[1.78,2.27],[1.66,2.16],[1.77,2.09],[1.9,2.14],[2.1,2.37],
  [1.64,1.91],[1.7,1.82],[1.82,1.86],[1.98,1.82],[2.04,1.9],[2.14,1.82],[2.2,1.69],[2.09,1.73],[2.26,1.9],
  [2.18,2.14],[2.34,2.14],[1.72,1.33],[1.77,1.24],[1.98,1.39],[2.04,1.37],[2.09,1.24],[2.14,1.15],[2.22,1.08],
  [2.3,1.04],[2.34,0.96],[1.62,0.92],[1.8,0.76],[1.98,0.8],[2.01,0.69],[1.7,0.63],[2.2,0.71],
  [2.38,5.33],[2.62,5.34],[3.05,5.34],[3.0,4.0],[3.0,3.82],[3.3,4.14],[2.98,3.06],[2.73,2.78],[2.81,2.81],
  [2.74,2.71],[3.0,2.78],[2.9,2.43],[2.81,1.64],[2.9,1.65],[3.22,1.69],[2.73,1.39],[2.82,1.33],[2.98,1.41],
  [3.13,1.24],[3.06,1.08],[3.22,1.04],[3.0,0.85],[3.3,0.61],
  [3.69,5.29],[3.8,5.34],[3.8,5.24],[3.98,5.07],[3.7,4.88],[3.74,4.77],[3.74,4.63],[4.28,4.9],[4.34,4.77],
  [4.26,4.67],[3.69,4.39],[3.74,4.35],[3.82,4.33],[3.9,4.22],[3.7,4.1],[3.77,4.1],[3.9,3.87],[3.85,3.69],
  [4.14,4.18],[4.22,4.33],[4.26,4.1],[4.3,4.22],[4.34,4.02],[4.18,3.86],[4.26,3.71],[3.69,3.41],[3.93,3.22],
  [3.96,3.08],[4.02,3.22],[4.1,3.24],[4.2,3.2],[4.26,3.19],[4.34,3.22],[3.66,3.04],[3.93,2.96],[3.96,2.78],
  [3.7,2.84],[4.34,2.92],[4.18,2.8],[4.34,2.63],
  [3.62,2.35],[3.7,2.22],[3.78,2.3],[3.86,2.15],[3.94,2.32],[4.02,2.25],[4.1,2.35],[4.18,2.2],[4.26,2.3],
  [4.34,2.18],[3.64,2.05],[3.72,1.95],[3.8,2.08],[3.88,1.9],[3.96,2.02],[4.04,1.92],[4.12,2.05],[4.2,1.98],
  [4.28,2.1],[4.36,1.95],[3.6,1.85],[3.68,1.72],[3.76,1.8],[3.84,1.68],[3.92,1.78],[4.0,1.7],[4.08,1.82],
  [4.16,1.72],[4.24,1.8],[4.32,1.68],[4.4,1.85],[3.66,1.62],[3.9,1.62],[4.14,1.6],[4.3,1.75],[4.06,2.12],[3.98,1.88],
  [3.62,1.38],[3.7,1.3],[3.78,1.22],[3.86,1.35],[3.94,1.28],[4.02,1.32],[4.1,1.25],[4.18,1.35],[4.26,1.3],
  [3.64,1.1],[3.72,1.02],[3.8,1.08],[3.88,0.98],[3.96,1.05],[4.04,0.95],[4.12,1.0],[4.2,0.92],[4.28,1.05],
  [4.36,0.9],[3.66,0.82],[3.74,0.75],[3.84,0.85],[3.92,0.72],[4.0,0.8],[4.08,0.7],[4.16,0.78],[4.24,0.68],
  [4.32,0.75],[3.7,0.62],[3.96,0.62],[4.2,0.64],
  [4.65,5.37],[4.68,5.29],[4.78,5.33],[4.89,5.31],[4.97,5.26],[5.1,5.34],[5.22,5.33],[4.6,5.12],[4.66,5.0],
  [4.73,5.1],[4.78,4.93],[4.84,5.04],[4.89,4.93],[4.94,4.84],[5.06,4.93],[5.22,4.88],[4.82,4.02],[4.98,4.06],
  [5.26,3.69],[5.3,4.04],[4.6,3.04],[4.65,3.0],[4.81,3.08],[4.98,2.8],[5.26,3.12],[5.33,2.92],[4.82,2.67],
  [4.66,2.37],[4.9,2.43],[5.09,2.27],[5.18,2.24],[5.06,1.9],[5.26,1.78],[5.28,1.64],[4.62,2.06],[4.58,1.82],
  [4.6,1.35],[4.66,1.22],[4.72,1.3],[4.62,1.05],[4.7,0.98],[4.78,1.08],[4.64,0.85],[4.72,0.78],[4.8,0.7],
  [4.9,0.65],[5.0,0.7],[5.08,0.62],[4.95,1.15],[5.05,1.05],[5.15,0.95],[5.22,1.3],[5.3,1.18],[5.28,1.05],
  [5.35,0.92],[5.25,0.8],[5.32,0.7],[5.38,0.62],[5.18,1.38],[4.86,0.92]
]

const pointSets = [pts1, pts2, pts3, pts4, pts5, pts6, pts7, pts8]
const fitSets = [fit1, fit2, fit3, fit4, fit5, fit6, fit7, fit8]

/* 版式 */
const colLefts = [54, 344, 635, 924]
const rowTops = [10, 303]
const panelW = 216
const panelH = 214
const axisMin = 0.36
const axisMax = 5.64
const font = 'Liberation Sans, Arial, sans-serif'

const myChart = echarts.init(document.getElementById('chart'), null, { renderer: 'canvas' })

const minorStyle = { color: '#ffffff', width: 1, type: 'solid' }
const majorStyle = { color: '#e3e3e3', width: 1, type: 'solid' }
const gridLineData = []
minorTicks.forEach(v => {
  gridLineData.push({ xAxis: v, lineStyle: minorStyle })
  gridLineData.push({ yAxis: v, lineStyle: minorStyle })
})
ticks.forEach(v => {
  gridLineData.push({ xAxis: v, lineStyle: majorStyle })
  gridLineData.push({ yAxis: v, lineStyle: majorStyle })
})

const grids = [], xAxes = [], yAxes = [], series = []

pointSets.forEach((pts, i) => {
  const col = i % 4, row = Math.floor(i / 4)
  const big = i === 0 || i === 4

  grids.push({
    left: colLefts[col],
    top: rowTops[row],
    width: panelW,
    height: panelH,
    show: true,
    backgroundColor: '#f7f7f7',
    borderColor: '#7a7a7a',
    borderWidth: 2
  })

  const axisCommon = {
    type: 'value',
    gridIndex: i,
    min: axisMin,
    max: axisMax,
    nameLocation: 'middle',
    nameTextStyle: { fontFamily: font, fontSize: 13.6, color: '#1a1a1a' },
    axisLine: { show: false },
    axisTick: { show: true, customValues: ticks, length: 4, lineStyle: { color: '#111', width: 2 } },
    axisLabel: { customValues: ticks, fontFamily: font, fontSize: 12.5, color: '#333' },
    splitLine: { show: false }
  }

  xAxes.push({
    ...axisCommon,
    name: xTitles[i],
    nameGap: 30,
    axisLabel: { ...axisCommon.axisLabel, margin: 11 }
  })
  yAxes.push({
    ...axisCommon,
    name: yTitles[i],
    nameGap: 28,
    axisLabel: { ...axisCommon.axisLabel, margin: 9 }
  })

  // 网格线
  series.push({
    type: 'line',
    xAxisIndex: i,
    yAxisIndex: i,
    data: [],
    silent: true,
    z: 1,
    markLine: {
      silent: true,
      symbol: ['none', 'none'],
      label: { show: false },
      animation: false,
      data: gridLineData
    }
  })

  // 散点
  series.push({
    type: 'scatter',
    xAxisIndex: i,
    yAxisIndex: i,
    data: pts,
    symbol: big ? 'rect' : 'circle',
    symbolSize: big ? 5.5 : 2.2,
    itemStyle: { color: big ? '#bebebe' : '#aaaaaa', opacity: 1 },
    silent: true,
    z: 2
  })

  // 拟合线
  series.push({
    type: 'line',
    xAxisIndex: i,
    yAxisIndex: i,
    data: fitX.map((x, k) => [x, fitSets[i][k]]),
    smooth: 0.35,
    showSymbol: false,
    lineStyle: { color: '#0000ff', width: 2.5 },
    silent: true,
    z: 3
  })
})

const option = {
  animation: false,
  backgroundColor: '#ffffff',
  grid: grids,
  xAxis: xAxes,
  yAxis: yAxes,
  series
}

myChart.setOption(option, { notMerge: true })
</script>
</body>
</html>
